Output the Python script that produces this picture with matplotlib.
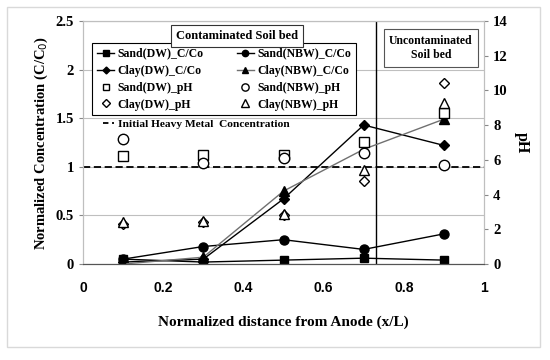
import numpy as np
import matplotlib.pyplot as plt
from matplotlib.lines import Line2D
from matplotlib.patches import Rectangle

x = [0.1, 0.3, 0.5, 0.7, 0.9]

# C/Co series (left axis)
sand_dw_c = [0.05, 0.02, 0.04, 0.06, 0.04]
sand_nbw_c = [0.05, 0.18, 0.25, 0.15, 0.31]
clay_dw_c = [0.02, 0.05, 0.67, 1.43, 1.22]
clay_nbw_c = [0.0, 0.07, 0.75, 1.18, 1.49]

# pH series (right axis)
sand_dw_ph = [6.2, 6.3, 6.3, 7.0, 8.7]
sand_nbw_ph = [7.2, 5.8, 6.1, 6.4, 5.7]
clay_dw_ph = [2.3, 2.4, 2.8, 4.8, 10.4]
clay_nbw_ph = [2.4, 2.5, 2.9, 5.4, 9.3]

initial_conc = 1.0
boundary_x = 0.73

serif = 'Liberation Serif'
sans = 'Liberation Sans'

fig = plt.figure(figsize=(5.5, 3.6), dpi=100)
fig.patches.append(Rectangle((7/550, 13/360), 533/550, 340/360, transform=fig.transFigure,
                             fill=False, edgecolor='#d9d9d9', lw=1))
ax = fig.add_axes([83/550, 1 - 264/360, 401/550, 243/360])
ax2 = ax.twinx()

ax.set_xlim(0, 1)
ax.set_ylim(0, 2.5)
ax2.set_ylim(0, 14)
ax.set_xticks([0, 0.2, 0.4, 0.6, 0.8, 1])
ax.set_xticklabels(['0', '0.2', '0.4', '0.6', '0.8', '1'], fontfamily=sans, fontweight='bold', fontsize=10)
ax.set_yticks([0, 0.5, 1, 1.5, 2, 2.5])
ax.set_yticklabels(['0', '0.5', '1', '1.5', '2', '2.5'], fontfamily=serif, fontweight='bold', fontsize=10.5)
ax2.set_yticks([0, 2, 4, 6, 8, 10, 12, 14])
ax2.set_yticklabels([str(v) for v in [0, 2, 4, 6, 8, 10, 12, 14]], fontfamily=serif, fontweight='bold', fontsize=10.5)
ax.tick_params(axis='x', length=0, pad=12)
ax.tick_params(axis='y', length=3, color='#888888')
ax2.tick_params(axis='y', length=3, color='#888888')

ax.grid(axis='y', color='#bfbfbf', lw=0.8)
ax.set_axisbelow(True)
for a in (ax, ax2):
    for s in ['left', 'right', 'top']:
        a.spines[s].set_color('#bfbfbf')
    a.spines['bottom'].set_color('#555555')

ax.set_xlabel('Normalized distance from Anode (x/L)', fontfamily=serif, fontweight='bold', fontsize=11, labelpad=15)
ax.set_ylabel('Normalized Concentration (C/C$_0$)', fontfamily=serif, fontweight='bold', fontsize=10.5, labelpad=4)
ax2.set_ylabel('pH', fontfamily=serif, fontweight='bold', fontsize=11.5, rotation=270, labelpad=16)

ax.axhline(initial_conc, color='black', ls='--', lw=1.3, dashes=(4, 2))
ax.axvline(boundary_x, color='black', lw=1)

l1, = ax.plot(x, sand_dw_c, '-s', color='black', ms=6, lw=1, label='Sand(DW)_C/Co')
l2, = ax.plot(x, sand_nbw_c, '-o', color='black', ms=6.5, lw=1, label='Sand(NBW)_C/Co')
l3, = ax.plot(x, clay_dw_c, '-D', color='black', ms=5, lw=1, label='Clay(DW)_C/Co')
l4, = ax.plot(x, clay_nbw_c, '-^', color='#707070', mfc='black', mec='black', ms=6.5, lw=1, label='Clay(NBW)_C/Co')
p1, = ax2.plot(x, sand_dw_ph, 's', mfc='white', mec='black', ms=7, mew=1, label='Sand(DW)_pH')
p2, = ax2.plot(x, sand_nbw_ph, 'o', mfc='white', mec='black', ms=7.5, mew=1, label='Sand(NBW)_pH')
p3, = ax2.plot(x, clay_dw_ph, 'D', mfc='white', mec='black', ms=5.5, mew=1, label='Clay(DW)_pH')
p4, = ax2.plot(x, clay_nbw_ph, '^', mfc='white', mec='black', ms=7.5, mew=1, label='Clay(NBW)_pH')

handles = [l1, l3, p1, p3, l2, l4, p2, p4]
leg = ax2.legend(handles=handles, ncol=2, loc='upper left', bbox_to_anchor=(92/550, 1 - 43/360),
                 bbox_transform=fig.transFigure, frameon=True, fancybox=False, edgecolor='black',
                 framealpha=1, prop={'family': serif, 'weight': 'bold', 'size': 8.5},
                 handlelength=1.5, handletextpad=0.25, columnspacing=2.8, labelspacing=0.42,
                 borderpad=0.4, borderaxespad=0, markerscale=0.7)
leg.get_frame().set_linewidth(0.8)
leg.set_zorder(5)

dash = Line2D([], [], color='black', ls='--', lw=1.3, dashes=(3, 2))
leg2 = ax2.legend(handles=[dash], labels=['Initial Heavy Metal  Concentration'], loc='upper left',
                  bbox_to_anchor=(98/550, 1 - 114/360), bbox_transform=fig.transFigure, frameon=False,
                  prop={'family': serif, 'weight': 'bold', 'size': 8.2}, handlelength=1.0,
                  handletextpad=0.4, borderaxespad=0)
ax2.add_artist(leg)

fig.text(237/550, 1 - 36/360, 'Contaminated Soil bed', ha='center', va='center', fontfamily=serif,
         fontweight='bold', fontsize=9,
         bbox=dict(boxstyle='square,pad=0.4', fc='white', ec='#333333', lw=0.8), zorder=6)
fig.text(431/550, 1 - 48/360, 'Uncontaminated\nSoil bed', ha='center', va='center', fontfamily=serif,
         fontweight='bold', fontsize=8.5, linespacing=1.3,
         bbox=dict(boxstyle='square,pad=0.45', fc='white', ec='#555555', lw=0.8), zorder=6)

fig.savefig('out.png', dpi=100)
